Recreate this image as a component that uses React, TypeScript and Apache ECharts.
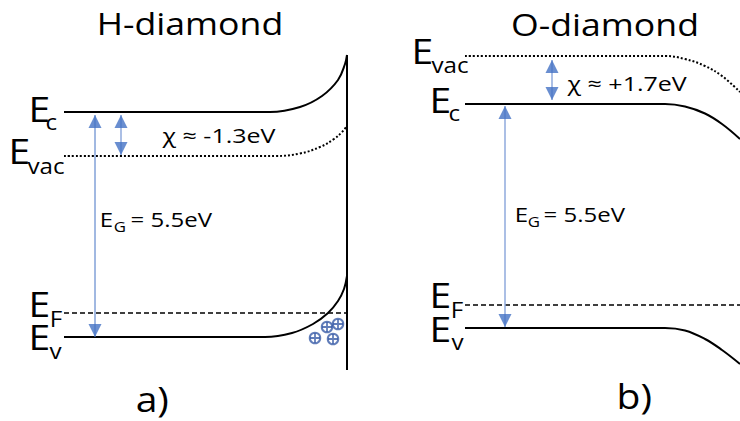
import React, { useEffect, useRef } from "react";
import * as echarts from "echarts";

// ---- Band profiles (x = position, y = level on the drawing, downward) ----
// a) H-diamond
const hEc = [[64, 112], [270, 112], [300, 107], [322, 96], [338, 80], [345, 64], [347, 55]];
const hEvac = [[64, 156], [275, 156], [300, 153.5], [320, 147], [334, 139], [342, 132], [347, 126]];
const hEf = [[64, 313], [347, 313]];
const hEv = [[64, 337], [265, 337], [292, 333], [313, 324], [328, 313], [338, 301], [344, 289], [347, 276]];
const hSurface = [[347, 55], [347, 370]];
const hHoles = [[315, 338], [327, 327], [338, 324], [333, 339]];
// arrows: [x, top tip, bottom tip]
const hGapArrow = [95, 115, 337];
const hChiArrow = [121, 115, 155];

// b) O-diamond
const oEvac = [[465, 56], [665, 56], [685, 59], [705, 66], [722, 76], [740, 92]];
const oEc = [[465, 104], [665, 104], [685, 106.5], [705, 113.5], [722, 124], [740, 139]];
const oEf = [[465, 305], [740, 305]];
const oEv = [[465, 328], [665, 328], [685, 330.5], [705, 339], [722, 350], [740, 364]];
const oGapArrow = [505, 106, 327];
const oChiArrow = [552, 60, 100];

const FONT = "'Open Sans', 'Noto Sans', 'DejaVu Sans', sans-serif";
const BLUE = "#4472C4";
const LIGHT_BLUE = "#8FAADC";
const HOLE = "#3A5DA8";
const CENTRAL = 0.388;

function label(
  text: string,
  inkLeft: number,
  baseline: number,
  fs: number,
  sx = 1.15,
  align: "left" | "center" = "left",
  lsb = 0.09
) {
  return {
    type: "text",
    x: align === "left" ? inkLeft - lsb * fs * sx : inkLeft,
    y: baseline - CENTRAL * fs,
    scaleX: sx,
    silent: true,
    style: {
      text,
      fontSize: fs,
      fontFamily: FONT,
      fill: "#000",
      align,
      verticalAlign: "middle",
    },
  };
}

function band(data: number[][], width: number, type: any, smooth = true) {
  return {
    type: "line",
    data,
    symbol: "none",
    smooth: smooth ? 0.4 : false,
    silent: true,
    z: 2,
    lineStyle: { color: "#000", width, type, cap: "butt", join: "round" },
  };
}

function shaft(a: number[], color: string, width: number) {
  return {
    type: "line",
    data: [[a[0], a[1]], [a[0], a[2]]],
    symbol: "none",
    silent: true,
    z: 3,
    lineStyle: { color, width },
  };
}

function heads(a: number[]) {
  return [
    { value: [a[0], a[1]], symbolRotate: 0, symbolOffset: [0, "50%"] },
    { value: [a[0], a[2]], symbolRotate: 180, symbolOffset: [0, "-50%"] },
  ];
}

export default function App() {
  const ref = useRef<HTMLDivElement>(null);
  useEffect(() => {
    const chart = echarts.init(ref.current!, null, { renderer: "svg" });
    const option: any = {
      animation: false,
      backgroundColor: "#fff",
      grid: { left: 0, right: 0, top: 0, bottom: 0 },
      xAxis: { type: "value", min: 0, max: 740, show: false },
      yAxis: { type: "value", min: 0, max: 421, inverse: true, show: false },
      series: [
        band(hEc, 2, "solid"),
        band(hEvac, 2, [2, 2]),
        band(hEf, 1.5, [5, 3], false),
        band(hEv, 2, "solid"),
        band(hSurface, 2, "solid", false),
        band(oEvac, 2, [2, 2]),
        band(oEc, 2, "solid"),
        band(oEf, 1.5, [5, 3], false),
        band(oEv, 2, "solid"),
        shaft(hGapArrow, BLUE, 1),
        shaft(hChiArrow, LIGHT_BLUE, 1.5),
        shaft(oGapArrow, LIGHT_BLUE, 1.5),
        shaft(oChiArrow, LIGHT_BLUE, 1.5),
        {
          type: "scatter",
          data: [...heads(hGapArrow), ...heads(hChiArrow), ...heads(oGapArrow), ...heads(oChiArrow)],
          symbol: "triangle",
          symbolSize: [13, 13],
          itemStyle: { color: BLUE },
          silent: true,
          z: 5,
        },
        {
          type: "scatter",
          data: hHoles,
          symbol: "circle",
          symbolSize: 10.5,
          itemStyle: { color: "#fff", borderColor: HOLE, borderWidth: 2 },
          silent: true,
          z: 6,
        },
        {
          type: "scatter",
          data: hHoles,
          symbol: "path://M4.1,0h1.8v10h-1.8zM0,4.1h10v1.8h-10z",
          symbolSize: 10,
          itemStyle: { color: HOLE },
          silent: true,
          z: 7,
        },
      ],
      graphic: {
        elements: [
          label("H-diamond", 190, 35, 31, 1.15, "center"),
          label("O-diamond", 605, 36, 31, 1.15, "center"),
          // a) level labels
          label("E", 32, 122, 34),
          label("c", 47, 130, 22, 1.1, "left", 0.06),
          label("E", 12, 164, 34),
          label("vac", 28, 174, 22, 1.1, "left", 0.02),
          label("E", 32, 317, 34),
          label("F", 52, 327, 22, 1.1),
          label("E", 32, 350, 34),
          label("v", 50, 359, 22, 1.1, "left", 0.02),
          // b) level labels
          label("E", 415, 64, 34),
          label("vac", 432, 73, 22, 1.1, "left", 0.02),
          label("E", 433, 113, 34),
          label("c", 450, 121, 22, 1.1, "left", 0.06),
          label("E", 433, 308, 34),
          label("F", 453, 318, 22, 1.1),
          label("E", 433, 342, 34),
          label("v", 452, 350, 22, 1.1, "left", 0.02),
          // annotations
          label("χ ≈ -1.3eV", 163, 143, 20, 1.25, "left", 0.02),
          label("χ ≈ +1.7eV", 568, 91, 20, 1.25, "left", 0.02),
          label("E", 102, 227, 20, 1.2),
          label("G", 115, 232, 14, 1.2, "left", 0.07),
          label("= 5.5eV", 132, 227, 20, 1.2, "left", 0.06),
          label("E", 517, 222, 20, 1.2),
          label("G", 529, 227, 14, 1.2, "left", 0.07),
          label("= 5.5eV", 545, 222, 20, 1.2, "left", 0.06),
          label("a)", 138, 412, 34, 1.15, "left", 0.06),
          label("b)", 620, 409, 34, 1.15, "left", 0.09),
        ],
      },
    };
    chart.setOption(option);
    return () => chart.dispose();
  }, []);
  return (
    <div
      ref={ref}
      style={{ position: "fixed", left: 0, top: 0, width: 740, height: 421, background: "#fff" }}
    />
  );
}
